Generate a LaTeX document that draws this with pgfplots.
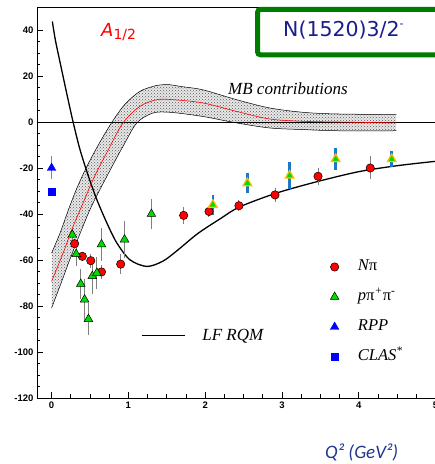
\documentclass[border=0pt]{standalone}
\usepackage{pgfplots}
\pgfplotsset{compat=1.18}
\usepgfplotslibrary{fillbetween}
\usetikzlibrary{patterns}
\usepackage{fontspec}
\setmainfont{Liberation Serif}
\newfontfamily\tickfont{Liberation Sans}
\newfontfamily\titlefont{DejaVu Sans}
\newfontfamily\qfont{Carlito}
\definecolor{mgreen}{RGB}{0,220,0}
\definecolor{navy}{RGB}{25,30,140}
\definecolor{qnavy}{RGB}{32,56,140}
\definecolor{boxgreen}{RGB}{0,125,0}
\definecolor{barblue}{RGB}{30,120,200}
\definecolor{ylw}{RGB}{255,190,0}
\definecolor{rppbar}{RGB}{120,120,255}

\begin{document}
\begin{tikzpicture}
% ---- underlying axis: LF RQM curve with its own legend
\begin{axis}[
  scale only axis, width=398.5pt, height=391pt,
  xmin=-0.19, xmax=5, ymin=-120, ymax=50,
  hide axis,
  legend style={draw=none, fill=none, font=\fontsize{17}{20}\selectfont\itshape,
    at={(0.253,0.159)}, anchor=west,
    /tikz/every odd column/.append style={column sep=15pt}},
  legend image code/.code={\draw[#1] (0pt,0pt) -- (43pt,0pt);},
]
\addplot[black, line width=1.3pt, smooth] coordinates {
(0.01,43.7) (0.05,35.5) (0.11,26) (0.2,12) (0.28,0) (0.37,-12) (0.48,-23.6)
(0.59,-33.8) (0.72,-43.9) (0.85,-52.6) (1.02,-59.9) (1.24,-62.8) (1.45,-60.5)
(1.65,-55.5) (1.9,-48.6) (2.19,-42.2) (2.45,-36.9) (2.93,-30.9) (3.45,-26)
(4.0,-21.6) (4.5,-19) (5.0,-17.1)};
\addlegendentry{LF RQM}
\end{axis}

% ---- main axis
\begin{axis}[
  name=ax, set layers,
  scale only axis, width=398.5pt, height=391pt,
  xmin=-0.19, xmax=5, ymin=-120, ymax=50,
  axis line style={line width=0.8pt},
  tick pos=left, tick align=inside,
  xtick={0,1,2,3,4,5}, ytick={-120,-100,...,40},
  minor x tick num=3, minor y tick num=3,
  major tick length=6pt, minor tick length=3.5pt,
  tick style={black, line width=0.6pt},
  ticklabel style={font=\tickfont\bfseries\fontsize{9.5}{11}\selectfont},
  /pgf/number format/assume math mode=true,
  legend cell align=left,
  legend style={draw=none, fill=none, font=\fontsize{16.5}{20}\selectfont\itshape,
    at={(0.728,0.22)}, anchor=west, row sep=11pt,
    nodes={text height=11pt, text depth=4pt, inner sep=2pt},
    /tikz/every odd column/.append style={column sep=17pt}},
]
% zero line
\addplot[black, line width=0.5pt, forget plot] coordinates {(-0.19,0) (5,0)};

% MB contributions band
\addplot[black, line width=0.5pt, smooth, name path=up, forget plot] coordinates {
(0,-57) (0.11,-48.3) (0.22,-38.1) (0.33,-28.7) (0.46,-19.3) (0.61,-9.9) (0.78,-0.4)
(0.95,7.5) (1.15,13.3) (1.37,15.9) (1.54,16.2) (1.67,15.5) (1.97,14.0) (2.41,9.7)
(2.84,6.1) (3.28,4.2) (3.71,3.5) (4.49,3.2)};
\addplot[black, line width=0.5pt, smooth, name path=lo, forget plot] coordinates {
(0,-80.9) (0.13,-69.5) (0.27,-57) (0.5,-38.1) (0.72,-23.6) (0.93,-10.6) (1.11,-0.4)
(1.32,3.9) (1.55,4.2) (1.97,2.4) (2.41,-0.4) (2.84,-2.6) (3.28,-3.3) (3.71,-3.8) (4.49,-3.8)};
\addplot[pattern=crosshatch dots, pattern color=gray!70!black,
  preaction={fill=gray!18}, forget plot] fill between[of=up and lo];
\addplot[red, line width=0.6pt, smooth, forget plot] coordinates {
(0,-69.3) (0.15,-57) (0.28,-45.4) (0.41,-35.2) (0.56,-23.6) (0.74,-12) (0.93,-0.4)
(1.15,6.8) (1.37,9.7) (1.58,9.7) (1.97,8.3) (2.41,4.6) (2.84,1.3) (3.28,0.3)
(3.71,0) (4.49,-0.4)};

% N pi
\addplot[only marks, mark=*, mark size=4.2pt,
  mark options={fill=red, draw=black, line width=0.5pt},
  error bars/.cd, y dir=both, y explicit, error mark=none,
  error bar style={gray, line width=1pt}] coordinates {
(0.30,-52.9) +- (0,2)
(0.40,-58.4) +- (0,2)
(0.51,-60.3) +- (0,3)
(0.65,-65.2) +- (0,3)
(0.90,-61.8) +- (0,4.3)
(1.72,-40.6) +- (0,3.6)
(2.05,-38.9) +- (0,2.5)
(2.44,-36.4) +- (0,2.5)
(2.91,-31.7) +- (0,3)
(3.47,-23.6) +- (0,3.6)
(4.15,-20.0) +- (0,5)};
\addlegendentry{N{\upshape π}}

% p pi+ pi-
\addplot[only marks, mark=triangle*, mark size=5pt,
  mark options={fill=mgreen, draw=black, line width=0.5pt},
  error bars/.cd, y dir=both, y explicit, error mark=none,
  error bar style={gray, line width=1pt}] coordinates {
(0.27,-49.0) +- (0,2.5)
(0.32,-57.4) +- (0,5)
(0.38,-70.4) +- (0,6.5)
(0.43,-77.2) +- (0,9)
(0.48,-85.7) +- (0,7)
(0.53,-67.0) +- (0,7.6)
(0.59,-65.6) +- (0,6.9)
(0.65,-53.2) +- (0,7.2)
(0.95,-51.1) +- (0,8)
(1.30,-40.0) +- (0,6.5)};
\addlegendentry{p{\upshape π}\textsuperscript{+}{\upshape π}\textsuperscript{-}}

% RPP
\addplot[only marks, mark=triangle*, mark size=5pt,
  mark options={fill=blue, draw=blue},
  error bars/.cd, y dir=both, y explicit, error mark=none,
  error bar style={rppbar, line width=1pt}] coordinates {
(0,-20) +- (0,5)};
\addlegendentry{RPP}

% CLAS*
\addplot[only marks, mark=square*, mark size=3.6pt,
  mark options={fill=blue, draw=blue}] coordinates {(0,-30.2)};
\addlegendentry{CLAS\textsuperscript{*}}

% high-Q2 p pi+ pi- (yellow outline, blue bars)
\addplot[only marks, mark=triangle*, mark size=5pt, forget plot,
  mark options={fill=mgreen, draw=ylw, line width=1.2pt},
  error bars/.cd, y dir=both, y explicit, error mark=none,
  error bar style={barblue, line width=2.6pt}] coordinates {
(2.10,-36.0) +- (0,4.3)
(2.55,-26.6) +- (0,4.3)
(3.10,-23.3) +- (0,5.8)
(3.70,-16.1) +- (0,4.7)
(4.43,-16.1) +- (0,3.3)};
\end{axis}

\pgfresetboundingbox
\begin{scope}[x=1pt,y=-1pt,shift={(ax.south west)},shift={(-37,-398)}]
  \path[use as bounding box] (0,0) rectangle (435,464);
  \draw[boxgreen, line width=5pt, rounded corners=3pt, fill=white] (257.5,9.5) rectangle (455,54.8);
  \node[navy, font=\titlefont\fontsize{20.5}{24}\selectfont, anchor=base west, inner sep=0pt] at (283,36.7)
     {N(1520)3/2\raisebox{9pt}{\fontsize{11}{11}\selectfont -}};
  \node[red, font=\titlefont\itshape\fontsize{18}{22}\selectfont, anchor=base west, inner sep=0pt] at (101,36.7)
     {A{\upshape\fontsize{14}{14}\selectfont\raisebox{-2.5pt}{1/2}}};
  \node[font=\fontsize{17}{20}\selectfont\itshape, anchor=base west, inner sep=0pt] at (228,95) {MB contributions};
  \node[qnavy, font=\qfont\itshape\fontsize{19}{22}\selectfont, anchor=base west, inner sep=0pt] at (325,458) {Q² (GeV²)};
\end{scope}
\end{tikzpicture}
\end{document}
